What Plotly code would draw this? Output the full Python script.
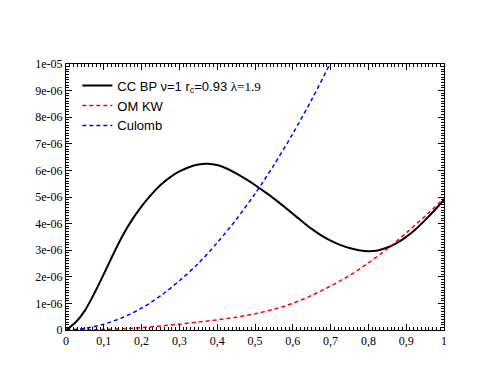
import plotly.graph_objects as go

# Values (y in units of 1e-6)
x_cc = [0.0, 0.025, 0.05, 0.075, 0.1, 0.125, 0.15, 0.175, 0.2, 0.225, 0.25, 0.275,
        0.3, 0.325, 0.35, 0.375, 0.4, 0.425, 0.45, 0.475, 0.5, 0.525, 0.55, 0.575,
        0.6, 0.625, 0.65, 0.675, 0.7, 0.725, 0.75, 0.775, 0.8, 0.825, 0.85, 0.875,
        0.9, 0.925, 0.95, 0.975, 1.0]
y_cc = [0.0, 0.28, 0.73, 1.38, 2.1, 2.85, 3.55, 4.15, 4.65, 5.08, 5.45, 5.74,
        5.96, 6.12, 6.22, 6.25, 6.2, 6.07, 5.89, 5.68, 5.45, 5.2, 4.94, 4.66,
        4.37, 4.08, 3.8, 3.56, 3.36, 3.2, 3.08, 3.0, 2.96, 2.99, 3.1, 3.27,
        3.5, 3.79, 4.13, 4.5, 4.9]

x_om = [0.0, 0.05, 0.1, 0.15, 0.2, 0.25, 0.3, 0.35, 0.4, 0.45, 0.5, 0.55, 0.6,
        0.65, 0.7, 0.75, 0.8, 0.85, 0.9, 0.95, 1.0]
y_om = [0.0, 0.005, 0.02, 0.05, 0.09, 0.15, 0.22, 0.3, 0.38, 0.48, 0.61, 0.78, 1.0,
        1.3, 1.65, 2.05, 2.52, 3.05, 3.65, 4.28, 4.95]

x_cul = [0.0, 0.05, 0.1, 0.15, 0.2, 0.25, 0.3, 0.35, 0.4, 0.45, 0.5, 0.55, 0.6,
         0.65, 0.7, 0.75]
y_cul = [0.0, 0.06, 0.22, 0.47, 0.82, 1.28, 1.85, 2.5, 3.28, 4.15, 5.12, 6.2, 7.38,
         8.66, 10.05, 11.5]

x_tickvals = [0, 0.1, 0.2, 0.3, 0.4, 0.5, 0.6, 0.7, 0.8, 0.9, 1]
x_ticktext = ['0', '0,1', '0,2', '0,3', '0,4', '0,5', '0,6', '0,7', '0,8', '0,9', '1']
y_tickvals = [0, 1, 2, 3, 4, 5, 6, 7, 8, 9, 10]
y_ticktext = ['0', '1e-06', '2e-06', '3e-06', '4e-06', '5e-06', '6e-06', '7e-06',
              '8e-06', '9e-06', '1e-05']

SCALE = 1e-6
SERIF = 'Times New Roman, Liberation Serif, serif'
SANS = 'Liberation Sans, Arial, sans-serif'


def scaled(values):
    return [v * SCALE for v in values]


fig = go.Figure()
fig.add_trace(go.Scatter(
    x=x_cc, y=scaled(y_cc), mode='lines', line_shape='spline', line_smoothing=0.8,
    name='CC BP \u03bd=1 r<sub>c</sub>=0.93 <span style="font-family:Liberation Serif">\u03bb=1.9</span>',
    line=dict(color='black', width=2)))
fig.add_trace(go.Scatter(
    x=x_om, y=scaled(y_om), mode='lines', line_shape='spline', line_smoothing=0.8,
    name='OM KW',
    line=dict(color='#ff0000', width=1.5, dash='4px,3px')))
fig.add_trace(go.Scatter(
    x=x_cul, y=scaled(y_cul), mode='lines', line_shape='spline', line_smoothing=0.8,
    name='Culomb',
    line=dict(color='#0000ff', width=1.5, dash='4px,3px')))

axis_common = dict(
    showgrid=False, zeroline=False, showline=True, linecolor='black', linewidth=1,
    mirror='allticks', ticks='inside', ticklen=6, tickcolor='black', tickwidth=1,
    tickfont=dict(family=SERIF, size=12, color='black'),
)
fig.update_xaxes(
    range=[0, 1], tickvals=x_tickvals, ticktext=x_ticktext,
    minor=dict(ticks='inside', ticklen=3, dtick=0.01, tickcolor='black', tickwidth=1),
    **axis_common)
fig.update_yaxes(
    range=[0, 1e-5], tickvals=scaled(y_tickvals), ticktext=y_ticktext,
    minor=dict(ticks='inside', ticklen=3, dtick=1e-7, tickcolor='black', tickwidth=1),
    **axis_common)

fig.update_layout(
    width=491, height=379,
    margin=dict(l=58, r=55, t=56, b=57),
    plot_bgcolor='white', paper_bgcolor='white',
    font=dict(family=SANS, size=13, color='black'),
    showlegend=True,
    legend=dict(x=0.03, y=0.975, xanchor='left', yanchor='top',
                bgcolor='rgba(0,0,0,0)', tracegroupgap=0,
                font=dict(family=SANS, size=13)),
)

fig.write_html("out.html")
